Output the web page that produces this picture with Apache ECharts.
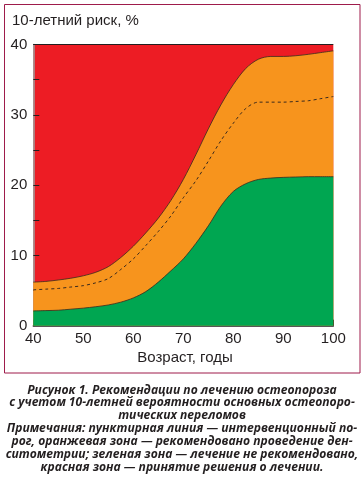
<!DOCTYPE html>
<html><head><meta charset="utf-8">
<script src="https://cdn.jsdelivr.net/npm/echarts@6/dist/echarts.min.js"></script>
<style>html,body{margin:0;padding:0;background:#fff}#c{width:364px;height:485px}</style>
</head><body><div id="c"></div>
<script>
var ages = [40,42.5,45,47.5,50,52.5,55,57.5,60,62.5,65,67.5,70,72.5,75,77.5,80,82.5,85,87.5,90,92.5,95,97.5,100];
var greenTop = [2.1,2.15,2.2,2.35,2.5,2.7,2.95,3.35,3.95,4.85,6.2,7.8,9.5,11.7,14.2,17.0,19.1,20.2,20.8,21.0,21.1,21.15,21.2,21.2,21.2];
var orangeTop = [6.2,6.3,6.5,6.75,7.1,7.6,8.4,9.7,11.3,13.2,15.3,17.8,20.8,24.3,28.0,31.4,34.3,36.6,37.9,38.3,38.3,38.4,38.6,38.85,39.1];
var threshold = [5.1,5.2,5.3,5.5,5.7,6.1,6.7,8.0,9.5,11.4,13.4,15.6,18.2,20.6,23.4,26.3,28.8,30.9,31.8,31.8,31.8,31.9,32.0,32.3,32.6];
var yTicks = [0,10,20,30,40];
var xTicks = [40,50,60,70,80,90,100];
var captionLines = [
  'Рисунок 1. Рекомендации по лечению остеопороза',
  'с учетом 10-летней вероятности основных остеопоро-',
  'тических переломов',
  'Примечания: пунктирная линия — интервенционный по-',
  'рог, оранжевая зона — рекомендовано проведение ден-',
  'ситометрии; зеленая зона — лечение не рекомендовано,',
  'красная зона — принятие решения о лечении.'
];
function pairs(arr){return ages.map(function(a,i){return [a,arr[i]];});}
var dark = '#3a2a1e';
var chart = echarts.init(document.getElementById('c'), null, {renderer:'canvas'});
var graphics = [
  {type:'rect', shape:{x:4.5,y:4.5,width:355.5,height:368.5}, style:{fill:null, stroke:'#9e1b4b', lineWidth:1}, z:-1},
  {type:'text', left:12, top:13, style:{text:'10-летний риск, %', font:'15px "Liberation Sans", Arial, sans-serif', fill:'#231f20'}},
  {type:'text', style:{text:'Возраст, годы', x:185, y:358, align:'center', verticalAlign:'middle', font:'15px "Liberation Sans", Arial, sans-serif', fill:'#231f20'}}
];
var capY = [390.5, 403, 415.5, 429, 442, 455, 468];
captionLines.forEach(function(t,i){
  graphics.push({type:'text', style:{text:t, x:182, y:capY[i], align:'center', verticalAlign:'middle', font:'italic bold 12.1px "Open Sans", sans-serif', fill:'#231f20'}});
});
chart.setOption({
  animation:false,
  backgroundColor:'#ffffff',
  grid:{left:33.3, right:30.7, top:44.5, bottom:159.3, show:true, backgroundColor:'#ed1c24', borderWidth:0},
  xAxis:{type:'value', min:40, max:100, interval:5,
    axisLine:{show:true, lineStyle:{color:'#231f20', width:1.5}},
    axisTick:{show:true, inside:true, length:6, lineStyle:{color:'#231f20', width:1}},
    axisLabel:{margin:6, fontSize:15, color:'#231f20', fontFamily:'"Liberation Sans", Arial, sans-serif',
      formatter:function(v){return xTicks.indexOf(v)>=0 ? String(v) : '';}},
    splitLine:{show:false}},
  yAxis:{type:'value', min:0, max:40, interval:5,
    axisLine:{show:true, lineStyle:{color:'#9a9a9a', width:1.5}},
    axisTick:{show:true, inside:true, length:6, lineStyle:{color:'#231f20', width:1}},
    axisLabel:{margin:6, fontSize:15, color:'#231f20', fontFamily:'"Liberation Sans", Arial, sans-serif',
      formatter:function(v){return yTicks.indexOf(v)>=0 ? String(v) : '';}},
    splitLine:{show:false}},
  graphic: graphics,
  series:[
    {type:'line', name:'orange', data:pairs(orangeTop), smooth:0.3, symbol:'none',
      lineStyle:{color:dark, width:0.8}, areaStyle:{color:'#f7941d', opacity:1}, z:2},
    {type:'line', name:'green', data:pairs(greenTop), smooth:0.3, symbol:'none',
      lineStyle:{color:dark, width:0.8}, areaStyle:{color:'#00a651', opacity:1}, z:3},
    {type:'line', name:'threshold', data:pairs(threshold), smooth:0.3, symbol:'none',
      lineStyle:{color:dark, width:1, type:[3,3]}, z:4},
    {type:'line', name:'top', data:ages.map(function(a){return [a,40];}), symbol:'none',
      lineStyle:{color:'#231f20', width:1.2}, z:5}
  ]
});
</script></body></html>
